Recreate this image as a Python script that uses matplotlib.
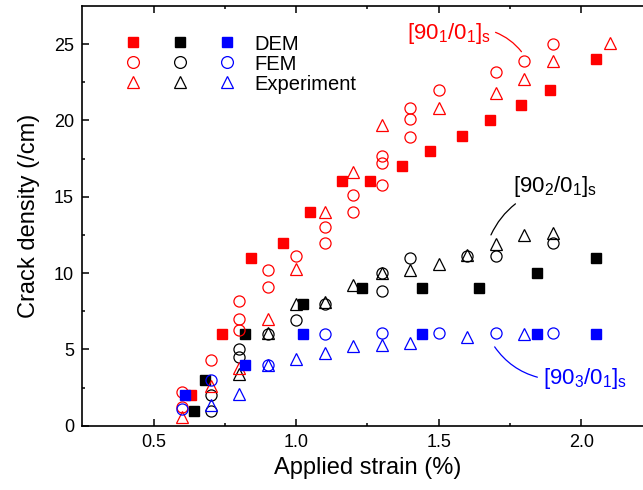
import matplotlib
matplotlib.use("Agg")
import matplotlib.pyplot as plt
from matplotlib.lines import Line2D

plt.rcParams['font.family'] = ['Liberation Sans', 'DejaVu Sans']
plt.rcParams['mathtext.default'] = 'regular'

# [90_1/0_1]s  (red)
red_dem_x = [0.63, 0.74, 0.84, 0.955, 1.05, 1.16, 1.26, 1.37, 1.47, 1.58, 1.68, 1.79, 1.89, 2.05]
red_dem_y = [2, 6, 11, 12, 14, 16, 16, 17, 18, 19, 20, 21, 22, 24]
red_fem_x = [0.6, 0.6, 0.7, 0.8, 0.8, 0.8, 0.9, 0.9, 1.0, 1.1, 1.1, 1.2, 1.2,
             1.3, 1.3, 1.3, 1.4, 1.4, 1.4, 1.5, 1.7, 1.8, 1.9]
red_fem_y = [2.2, 1.2, 4.3, 8.2, 7.0, 6.3, 10.2, 9.1, 11.1, 13.0, 12.0, 15.1, 14.0,
             17.7, 17.2, 15.8, 20.8, 20.1, 18.9, 22.0, 23.2, 23.9, 25.0]
red_exp_x = [0.6, 0.7, 0.8, 0.9, 1.0, 1.1, 1.2, 1.3, 1.5, 1.7, 1.8, 1.9, 2.1]
red_exp_y = [0.6, 2.6, 3.8, 7.0, 10.3, 14.0, 16.6, 19.7, 20.8, 21.8, 22.7, 23.9, 25.1]

# [90_2/0_1]s  (black)
blk_dem_x = [0.64, 0.68, 0.82, 1.025, 1.23, 1.44, 1.64, 1.845, 2.05]
blk_dem_y = [1, 3, 6, 8, 9, 9, 9, 10, 11]
blk_fem_x = [0.7, 0.7, 0.8, 0.8, 0.9, 1.0, 1.1, 1.3, 1.3, 1.4, 1.6, 1.7, 1.9]
blk_fem_y = [1.0, 2.0, 5.0, 4.5, 6.0, 6.9, 8.0, 8.8, 10.0, 11.0, 11.1, 11.1, 12.0]
blk_exp_x = [0.8, 0.9, 1.0, 1.1, 1.2, 1.3, 1.4, 1.5, 1.6, 1.7, 1.8, 1.9]
blk_exp_y = [3.4, 6.05, 8.0, 8.1, 9.2, 10.0, 10.2, 10.6, 11.2, 11.9, 12.5, 12.6]

# [90_3/0_1]s  (blue)
blu_dem_x = [0.61, 0.82, 1.025, 1.44, 1.845, 2.05]
blu_dem_y = [2, 4, 6, 6, 6, 6]
blu_fem_x = [0.6, 0.7, 0.9, 1.1, 1.3, 1.5, 1.7, 1.9]
blu_fem_y = [1.1, 3.0, 4.0, 6.0, 6.1, 6.05, 6.05, 6.05]
blu_exp_x = [0.7, 0.8, 0.9, 1.0, 1.1, 1.2, 1.3, 1.4, 1.6, 1.8]
blu_exp_y = [1.35, 2.1, 4.0, 4.35, 4.8, 5.2, 5.3, 5.45, 5.8, 6.0]

fig = plt.figure(figsize=(6.43, 4.90), dpi=100)
ax = fig.add_axes([0.128, 0.131, 0.887, 0.857])

def draw(c, dx, dy, fx, fy, ex, ey):
    ax.plot(fx, fy, 'o', ms=8, mfc='none', mec=c, mew=0.9, ls='none')
    ax.plot(ex, ey, '^', ms=9, mfc='none', mec=c, mew=0.9, ls='none')
    ax.plot(dx, dy, 's', ms=7.5, color=c, mec=c, ls='none')

draw('black', blk_dem_x, blk_dem_y, blk_fem_x, blk_fem_y, blk_exp_x, blk_exp_y)
draw('red', red_dem_x, red_dem_y, red_fem_x, red_fem_y, red_exp_x, red_exp_y)
draw('blue', blu_dem_x, blu_dem_y, blu_fem_x, blu_fem_y, blu_exp_x, blu_exp_y)

ax.set_xlim(0.25, 2.25)
ax.set_ylim(0, 27.5)
ax.set_xticks([0.5, 1.0, 1.5, 2.0])
ax.set_xticks([0.75, 1.25, 1.75], minor=True)
ax.set_yticks([0, 5, 10, 15, 20, 25])
ax.set_yticks([2.5, 7.5, 12.5, 17.5, 22.5], minor=True)
ax.tick_params(which='both', direction='in', top=True, right=False, width=1.1)
ax.tick_params(which='major', length=5, labelsize=13, pad=6)
ax.tick_params(which='minor', length=2.5)
for s in ax.spines.values():
    s.set_linewidth(1.2)
ax.spines['right'].set_visible(False)

ax.set_xlabel('Applied strain (%)', fontsize=17, labelpad=4)
ax.set_ylabel('Crack density (/cm)', fontsize=17, labelpad=10)

# legend: three colour columns, labels on the last one
handles, labels = [], []
for c in ['red', 'black', 'blue']:
    for m, name in [('s', 'DEM'), ('o', 'FEM'), ('^', 'Experiment')]:
        if m == 's':
            h = Line2D([], [], marker=m, ls='none', color=c, ms=7.5)
        else:
            h = Line2D([], [], marker=m, ls='none', mfc='none', mec=c, ms=8.5, mew=0.9)
        handles.append(h)
        labels.append(name if c == 'blue' else '')
ax.legend(handles, labels, ncol=3, loc='upper left', bbox_to_anchor=(0.06, 0.951),
          frameon=False, fontsize=14.5, handlelength=0.8, handletextpad=0.95,
          columnspacing=0.6, labelspacing=0.05, borderaxespad=0)

# laminate annotations
ax.annotate('[90$_1$/0$_1$]$_s$', xy=(1.79, 24.5), xytext=(1.39, 25.7), color='red',
            fontsize=16, va='center', ha='left',
            arrowprops=dict(arrowstyle='-', color='red', lw=0.9, shrinkA=1, shrinkB=0,
                            relpos=(1.0, 0.6), connectionstyle='arc3,rad=-0.15'))
ax.annotate('[90$_2$/0$_1$]$_s$', xy=(1.683, 12.5), xytext=(1.76, 15.7), color='black',
            fontsize=16, va='center', ha='left',
            arrowprops=dict(arrowstyle='-', color='black', lw=0.9, shrinkA=3, shrinkB=0,
                            relpos=(0.12, 0.0), connectionstyle='arc3,rad=0.15'))
ax.annotate('[90$_3$/0$_1$]$_s$', xy=(1.696, 5.17), xytext=(1.865, 3.1), color='blue',
            fontsize=16, va='center', ha='left',
            arrowprops=dict(arrowstyle='-', color='blue', lw=0.9, shrinkA=2, shrinkB=0,
                            relpos=(0.0, 0.5), connectionstyle='arc3,rad=-0.2'))

fig.savefig('out.png', dpi=100)
